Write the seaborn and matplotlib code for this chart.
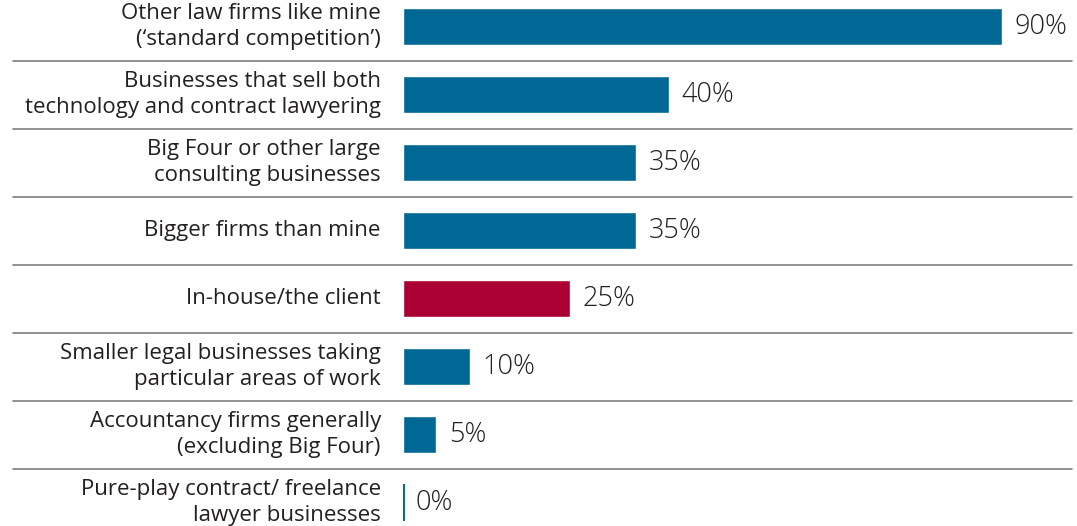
import matplotlib
matplotlib.use("Agg")
import matplotlib.pyplot as plt
import matplotlib.transforms as mtransforms
import seaborn as sns
import pandas as pd

# Survey: where firms see competition coming from
categories = [
    "Other law firms like mine\n(\u2018standard competition\u2019)",
    "Businesses that sell both\ntechnology and contract lawyering",
    "Big Four or other large\nconsulting businesses",
    "Bigger firms than mine",
    "In-house/the client",
    "Smaller legal businesses taking\nparticular areas of work",
    "Accountancy firms generally\n(excluding Big Four)",
    "Pure-play contract/ freelance\nlawyer businesses",
]
shares = [90, 40, 35, 35, 25, 10, 5, 0]
highlight = "In-house/the client"

BLUE = "#006894"
RED = "#AB0033"
TEXT = "#231F20"
RULE = "#808080"

df = pd.DataFrame({"category": categories, "share": shares})
palette = {c: (RED if c == highlight else BLUE) for c in categories}

sns.set_theme(style="white")
plt.rcParams["font.family"] = ["Open Sans", "DejaVu Sans"]

W, H, DPI = 1077, 526, 100
fig = plt.figure(figsize=(W / DPI, H / DPI), dpi=DPI)
left_px = 403
ax = fig.add_axes([left_px / W, 0, 1 - left_px / W, 1])

sns.barplot(data=df, x="share", y="category", hue="category", palette=palette,
            order=categories, hue_order=categories, orient="h", width=0.55,
            saturation=1, legend=False, ax=ax)

# a zero-valued bar is shown as a thin stroke
for p in ax.patches:
    if p.get_width() == 0:
        p.set_edgecolor(p.get_facecolor())
        p.set_linewidth(2.8)

px_per_unit = 6.66
ax.set_xlim(0, (W - left_px) / px_per_unit)
ax.set_ylim(7 + 23.5 / 68, -26.5 / 68)

ax.set_xlabel("")
ax.set_ylabel("")
ax.set_xticks([])
ax.tick_params(axis="y", length=0, pad=16, labelsize=16, labelcolor=TEXT)
for lbl in ax.get_yticklabels():
    lbl.set_linespacing(1.32)
    lbl.set_verticalalignment("center")
for s in ax.spines.values():
    s.set_visible(False)

# value labels
for i, v in enumerate(shares):
    ax.annotate(f"{v}%", xy=(v, i), xytext=(9, 0), textcoords="offset points",
                ha="left", va="center", fontsize=19.5, color=TEXT,
                fontweight="light")

# row separators spanning label and bar area
trans = mtransforms.blended_transform_factory(fig.transFigure, ax.transData)
for i in range(len(categories) - 1):
    ax.plot([13 / W, 1072 / W], [i + 0.5, i + 0.5], transform=trans,
            color=RULE, lw=1.2, clip_on=False)

fig.savefig("out.png", dpi=DPI)
